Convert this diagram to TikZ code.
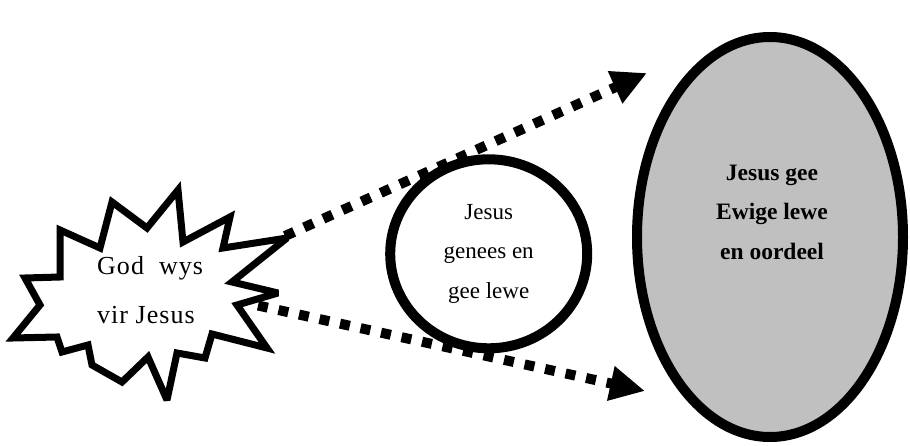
\documentclass[tikz,border=0pt]{standalone}
\usepackage{fontspec}
\setmainfont{Liberation Serif}
\usetikzlibrary{arrows.meta,shapes.geometric}
\definecolor{eterngray}{HTML}{C0C0C0}
\tikzset{
  burstline/.style={line width=7pt, line join=miter, miter limit=3},
  dotarrow/.style={line width=10pt, dash pattern=on 10pt off 11pt,
    -{Triangle[length=35pt,width=33pt]}},
  ringshape/.style={draw, ellipse, line width=10pt, inner sep=0pt, align=center},
  bursttext/.style={inner sep=0pt, align=left, font=\fontsize{26}{49}\selectfont\addfontfeature{LetterSpace=4}},
  ringtext/.style={font=\fontsize{23}{39.5}\selectfont},
  eterntext/.style={inner sep=0pt, align=center, font=\fontsize{23.5}{39.5}\selectfont\bfseries}
}
\begin{document}
\begin{tikzpicture}[x=1pt,y=-1pt]
\useasboundingbox (0,0) rectangle (910,446);
% starburst
\draw[burstline] (25,278) -- (60,277) -- (60,230) -- (100,248) -- (112,202) -- (147,228)
  -- (178,190) -- (183,242) -- (230,217) -- (223,248) -- (287,238) -- (232,282)
  -- (278,293) -- (237,305) -- (267,348) -- (212,334) -- (205,358) -- (177,353)
  -- (167,400) -- (148,357) -- (122,382) -- (92,365) -- (88,345) -- (62,352)
  -- (57,337) -- (13,338) -- (40,305) -- cycle;
\node[bursttext, anchor=west] (burst) at (97,290) {God\ \ wys\\vir Jesus};
% circle
\node[ringshape, ringtext, minimum width=197pt, minimum height=189pt] (ring) at (488.7,253.8)
  {Jesus\\genees en\\gee lewe};
% ellipse
\node[ringshape, fill=eterngray, minimum width=266pt, minimum height=400pt] (etern) at (770,237) {};
\node[eterntext] (eternlabel) at (772,212) {Jesus gee\\Ewige lewe\\ en oordeel};
% arrows
\coordinate (s1) at (285,236);
\coordinate (t1) at (647,73);
\coordinate (s2) at (258,305.5);
\coordinate (t2) at (645,391);
\draw[dotarrow] (s1) -- (t1);
\draw[dotarrow] (s2) -- (t2);
\end{tikzpicture}
\end{document}
